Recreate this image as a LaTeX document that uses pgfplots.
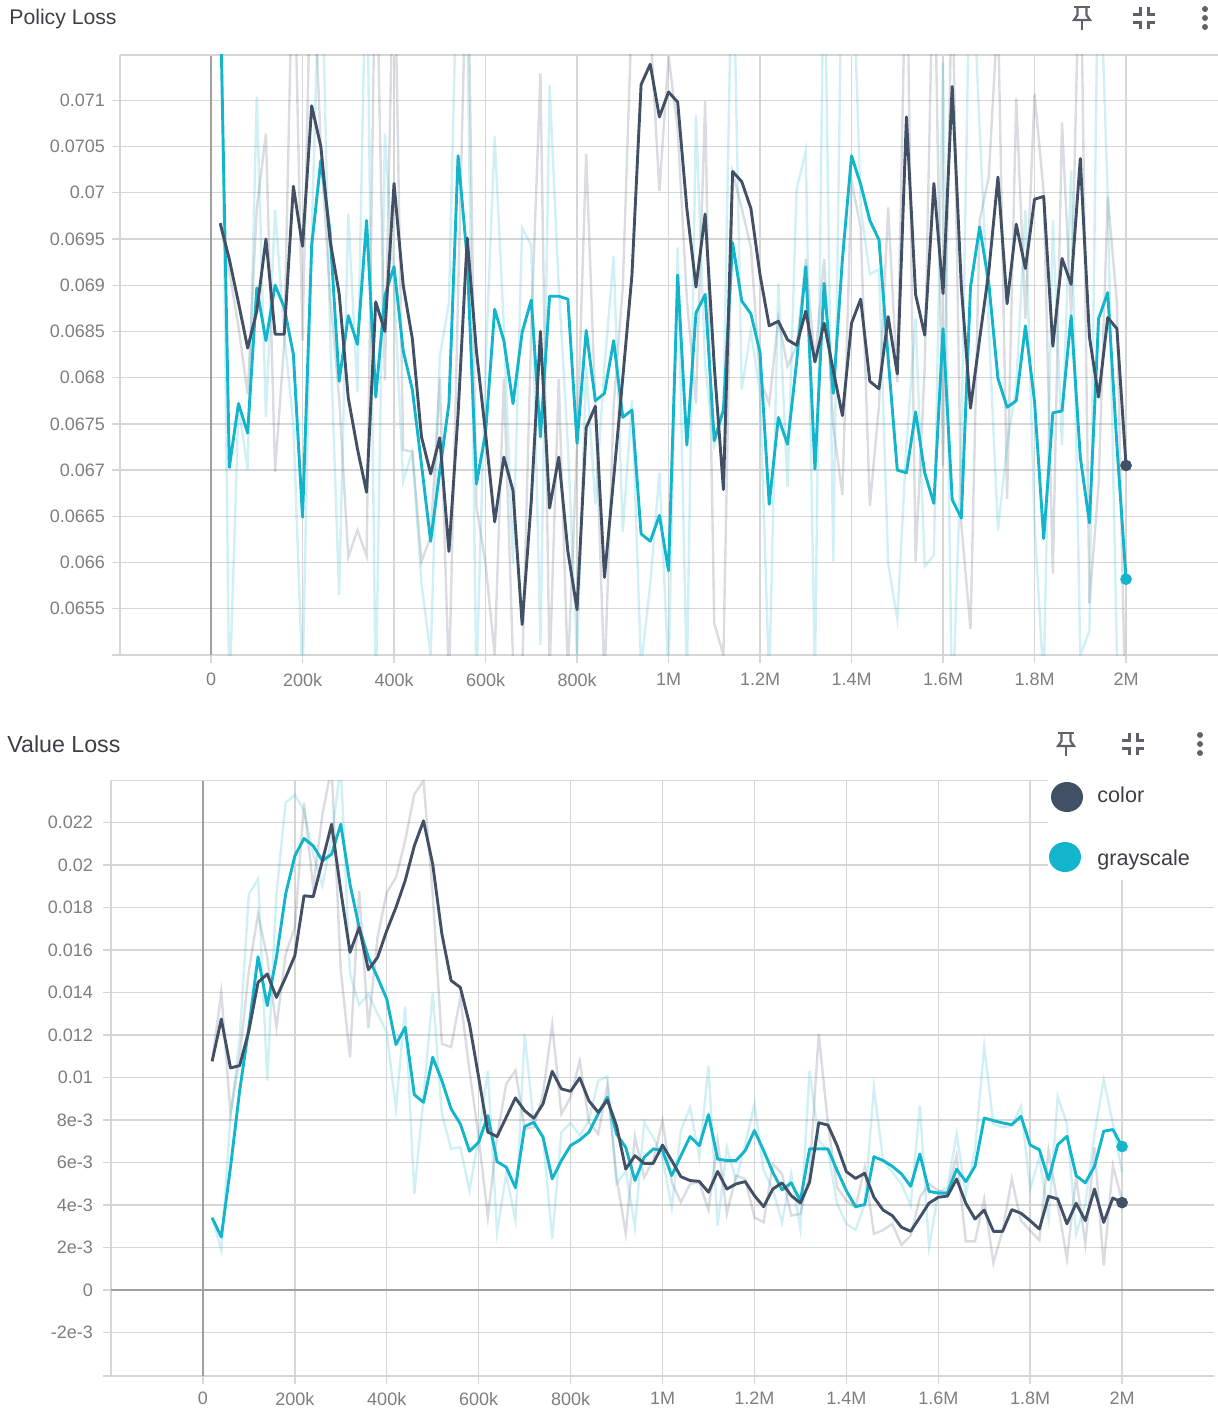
\documentclass[border=0pt]{standalone}
\usepackage{fontspec}
\setmainfont{Liberation Sans}
\usepackage{pgfplots}
\usepackage{pgfplotstable}
\pgfplotsset{compat=1.18}

\definecolor{darkline}{HTML}{425066}
\definecolor{tealline}{HTML}{12B5CB}
\definecolor{gridc}{HTML}{D6D6D6}
\definecolor{zeroc}{HTML}{A0A0A0}
\definecolor{labelc}{HTML}{7E7E7E}
\definecolor{iconc}{HTML}{5F6368}
\definecolor{titlec}{HTML}{3C4043}

% columns: step (k), smoothed color, smoothed grayscale, raw color, raw grayscale
\pgfplotstableread{
k c g cr gr
20 0.06967 0.0722 0.06967 0.0730
40 0.06928 0.06703 0.06915 0.0645
60 0.06881 0.06772 0.06855 0.06770
80 0.06832 0.06740 0.06782 0.06701
100 0.06872 0.06897 0.06983 0.07104
120 0.06950 0.06840 0.07064 0.06757
140 0.06847 0.06900 0.06698 0.06982
160 0.06847 0.06876 0.06838 0.06847
180 0.07007 0.06825 0.0730 0.06748
200 0.06942 0.06649 0.06840 0.06470
220 0.07094 0.06943 0.0730 0.06953
240 0.07050 0.07035 0.07047 0.0730
260 0.06949 0.06958 0.06889 0.06855
280 0.06891 0.06796 0.06778 0.06565
300 0.06778 0.06867 0.06606 0.06977
320 0.06723 0.06836 0.06635 0.06784
340 0.06676 0.06970 0.06607 0.0730
360 0.06882 0.06779 0.0730 0.0645
380 0.06850 0.06889 0.06797 0.07064
400 0.07010 0.06920 0.0730 0.06898
420 0.06900 0.06829 0.06722 0.06688
440 0.06842 0.06787 0.06720 0.06720
460 0.06736 0.06706 0.06601 0.06577
480 0.06696 0.06623 0.06628 0.06500
500 0.06735 0.06699 0.06799 0.06823
520 0.06612 0.06772 0.06470 0.06881
540 0.06761 0.07040 0.06889 0.0730
560 0.06951 0.06928 0.0730 0.0720
580 0.06829 0.06685 0.06661 0.06470
600 0.06740 0.06740 0.06599 0.06812
620 0.06644 0.06874 0.06500 0.07061
640 0.06714 0.06840 0.06799 0.06855
660 0.06678 0.06772 0.06496 0.06599
680 0.06533 0.06849 0.06480 0.06962
700 0.06667 0.06884 0.06855 0.06943
720 0.06850 0.06736 0.07129 0.06511
740 0.06659 0.06888 0.06480 0.07116
760 0.06714 0.06888 0.06799 0.06898
780 0.06612 0.06885 0.06480 0.06727
800 0.06549 0.06729 0.06727 0.06496
820 0.06746 0.06851 0.07042 0.06812
840 0.06769 0.06775 0.06770 0.06663
860 0.06584 0.06783 0.06470 0.06812
880 0.06691 0.06840 0.06770 0.06931
900 0.06800 0.06757 0.06898 0.06633
920 0.06911 0.06765 0.0720 0.06776
940 0.07117 0.06631 0.0725 0.06487
960 0.07139 0.06623 0.0718 0.06577
980 0.07082 0.06651 0.07002 0.06697
1000 0.07109 0.06591 0.07148 0.06479
1020 0.07098 0.06911 0.07069 0.06941
1040 0.06983 0.06727 0.06885 0.06470
1060 0.06898 0.06870 0.06772 0.07084
1080 0.06977 0.06890 0.07099 0.06812
1100 0.06812 0.06732 0.06534 0.06727
1120 0.06679 0.06765 0.06500 0.06770
1140 0.07023 0.06946 0.07022 0.0730
1160 0.07012 0.06883 0.06983 0.06787
1180 0.06983 0.06869 0.06941 0.06851
1200 0.06911 0.06827 0.06799 0.06782
1220 0.06856 0.06663 0.06772 0.06470
1240 0.06861 0.06757 0.06864 0.06902
1260 0.06841 0.06728 0.06812 0.06682
1280 0.06835 0.06817 0.06834 0.07004
1300 0.06872 0.06920 0.06928 0.07045
1320 0.06817 0.06701 0.06817 0.06470
1340 0.06859 0.06902 0.06928 0.0730
1360 0.06808 0.06783 0.06748 0.06601
1380 0.06759 0.06928 0.06673 0.0730
1400 0.06859 0.07040 0.07013 0.0730
1420 0.06885 0.07009 0.06962 0.06983
1440 0.06796 0.06970 0.06661 0.06912
1460 0.06788 0.06949 0.06770 0.06917
1480 0.06866 0.06821 0.06984 0.06599
1500 0.06804 0.06700 0.06795 0.06539
1520 0.07082 0.06697 0.0730 0.06727
1540 0.06890 0.06763 0.06601 0.06864
1560 0.06846 0.06697 0.06812 0.06596
1580 0.07010 0.06664 0.0730 0.06608
1600 0.06891 0.06853 0.06705 0.07141
1620 0.07115 0.06668 0.0725 0.06430
1640 0.06898 0.06648 0.06641 0.06727
1660 0.06767 0.06898 0.06528 0.0730
1680 0.06842 0.06963 0.06970 0.07069
1700 0.06915 0.06902 0.07017 0.06855
1720 0.07017 0.06799 0.0720 0.06635
1740 0.06880 0.06768 0.06669 0.06727
1760 0.06966 0.06775 0.07102 0.06791
1780 0.06918 0.06856 0.06864 0.06981
1800 0.06993 0.06774 0.07107 0.06641
1820 0.06996 0.06626 0.07000 0.06470
1840 0.06834 0.06762 0.06588 0.06970
1860 0.06929 0.06764 0.07076 0.06727
1880 0.06901 0.06867 0.06868 0.07024
1900 0.07037 0.06714 0.0730 0.06500
1920 0.06844 0.06643 0.06556 0.06526
1940 0.06779 0.06864 0.06684 0.0730
1960 0.06865 0.06892 0.06996 0.06996
1980 0.06853 0.06727 0.06881 0.06500
2000 0.06705 0.06582 0.0640 0.0640
}\policytable

\pgfplotstableread{
k c g cr gr
20 0.01076 0.00340 0.01076 0.00340
40 0.01275 0.00249 0.01401 0.00186
60 0.01045 0.00578 0.00829 0.00813
80 0.01056 0.00938 0.01095 0.01189
100 0.01220 0.01236 0.01503 0.01863
120 0.01448 0.01568 0.01769 0.01934
140 0.01487 0.01338 0.01565 0.00985
160 0.01377 0.01565 0.01236 0.01863
180 0.01471 0.01863 0.01581 0.02294
200 0.01573 0.02043 0.01706 0.02330
220 0.01855 0.02125 0.02291 0.02255
240 0.01851 0.02090 0.01894 0.02051
260 0.02020 0.02020 0.02239 0.01902
280 0.02192 0.02051 0.02460 0.02130
300 0.01879 0.02192 0.01503 0.02470
320 0.01589 0.01910 0.01095 0.01487
340 0.01706 0.01706 0.01879 0.01341
360 0.01507 0.01565 0.01233 0.01393
380 0.01565 0.01471 0.01659 0.01299
400 0.01691 0.01369 0.01871 0.01213
420 0.01800 0.01155 0.01941 0.00852
440 0.01926 0.01236 0.02114 0.01333
460 0.02090 0.00919 0.02333 0.00453
480 0.02208 0.00883 0.02396 0.00907
500 0.02004 0.01095 0.01863 0.01396
520 0.01675 0.00985 0.01158 0.00829
540 0.01456 0.00852 0.01143 0.00664
560 0.01424 0.00782 0.01377 0.00672
580 0.01252 0.00653 0.01033 0.00468
600 0.01001 0.00695 0.00719 0.00719
620 0.00743 0.00821 0.00343 0.01032
640 0.00722 0.00604 0.00719 0.00272
660 0.00813 0.00578 0.00970 0.00546
680 0.00904 0.00481 0.01033 0.00327
700 0.00844 0.00769 0.00758 0.01205
720 0.00808 0.00789 0.00766 0.00782
740 0.00876 0.00719 0.00923 0.00719
760 0.01029 0.00523 0.01249 0.00241
780 0.00946 0.00609 0.00829 0.00743
800 0.00935 0.00680 0.00907 0.00786
820 0.00998 0.00706 0.01079 0.00727
840 0.00890 0.00743 0.00789 0.00797
860 0.00836 0.00828 0.00734 0.00985
880 0.00894 0.00907 0.00962 0.01004
900 0.00773 0.00734 0.00530 0.00499
920 0.00569 0.00671 0.00267 0.00562
940 0.00632 0.00515 0.00722 0.00295
960 0.00596 0.00624 0.00530 0.00789
980 0.00596 0.00664 0.00609 0.00718
1000 0.00682 0.00656 0.00797 0.00624
1020 0.00609 0.00538 0.00507 0.00389
1040 0.00533 0.00632 0.00413 0.00750
1060 0.00515 0.00722 0.00499 0.00860
1080 0.00511 0.00679 0.00507 0.00624
1100 0.00460 0.00825 0.00376 0.01053
1120 0.00558 0.00616 0.00703 0.00303
1140 0.00475 0.00609 0.00358 0.00671
1160 0.00499 0.00609 0.00538 0.00515
1180 0.00510 0.00656 0.00522 0.00687
1200 0.00444 0.00750 0.00342 0.00875
1220 0.00392 0.00656 0.00318 0.00562
1240 0.00475 0.00554 0.00593 0.00475
1260 0.00504 0.00471 0.00546 0.00318
1280 0.00444 0.00504 0.00350 0.00546
1300 0.00409 0.00420 0.00358 0.00287
1320 0.00507 0.00664 0.00546 0.01032
1340 0.00787 0.00664 0.01205 0.00703
1360 0.00776 0.00664 0.00781 0.00656
1380 0.00679 0.00562 0.00483 0.00405
1400 0.00557 0.00467 0.00420 0.00311
1420 0.00525 0.00392 0.00389 0.00282
1440 0.00549 0.00402 0.00577 0.00405
1460 0.00436 0.00627 0.00264 0.00954
1480 0.00376 0.00609 0.00282 0.00609
1500 0.00350 0.00582 0.00311 0.00554
1520 0.00295 0.00546 0.00212 0.00499
1540 0.00276 0.00488 0.00256 0.00397
1560 0.00342 0.00640 0.00436 0.00867
1580 0.00409 0.00464 0.00499 0.00201
1600 0.00436 0.00456 0.00467 0.00460
1620 0.00442 0.00456 0.00460 0.00483
1640 0.00522 0.00569 0.00632 0.00734
1660 0.00408 0.00510 0.00229 0.00452
1680 0.00334 0.00582 0.00229 0.00656
1700 0.00376 0.00809 0.00428 0.01145
1720 0.00276 0.00797 0.00127 0.00781
1740 0.00276 0.00786 0.00279 0.00765
1760 0.00378 0.00778 0.00522 0.00773
1780 0.00361 0.00817 0.00326 0.00864
1800 0.00326 0.00682 0.00279 0.00475
1820 0.00287 0.00660 0.00235 0.00624
1840 0.00441 0.00519 0.00656 0.00334
1860 0.00428 0.00684 0.00405 0.00910
1880 0.00311 0.00723 0.00146 0.00781
1900 0.00408 0.00538 0.00530 0.00264
1920 0.00326 0.00504 0.00216 0.00405
1940 0.00475 0.00582 0.00671 0.00734
1960 0.00318 0.00747 0.00115 0.00990
1980 0.00433 0.00755 0.00585 0.00781
2000 0.00411 0.00675 0.00420 0.00554
}\valuetable

\pgfplotsset{
  tbaxis/.style={
    scale only axis,
    axis x line*=bottom, axis y line*=left,
    axis line style={draw=gridc, line width=0.8pt, -},
    grid=major,
    major grid style={draw=gridc, line width=0.7pt},
    tick style={draw=gridc, line width=0.7pt},
    tick align=outside,
    major tick length=4pt,
    scaled ticks=false,
    tick label style={font=\fontsize{9}{10}\selectfont, text=labelc},
    /pgf/number format/assume math mode=true,
    xtick={0,200,...,2000},
    xticklabels={0,200k,400k,600k,800k,1M,1.2M,1.4M,1.6M,1.8M,2M},
    clip=true,
  },
  rawc/.style={no marks, darkline, opacity=0.2, line width=1.2pt},
  rawg/.style={no marks, tealline, opacity=0.2, line width=1.2pt},
  smc/.style={no marks, darkline, line width=1.45pt, line join=round},
  smg/.style={no marks, tealline, line width=1.45pt, line join=round},
}

\begin{document}
\begin{tikzpicture}[x=0.5pt,y=-0.5pt]
\useasboundingbox (0,0) rectangle (1218,1408);

\begin{axis}[tbaxis,
  at={(60pt,-327.5pt)}, anchor=south west,
  width=549pt, height=300pt,
  xmin=-199, xmax=2201,
  ymin=0.0650, ymax=0.07149,
  xticklabel style={yshift=-1.5pt},
  ytick={0.065,0.0655,0.066,0.0665,0.067,0.0675,0.068,0.0685,0.069,0.0695,0.07,0.0705,0.071},
  yticklabels={,0.0655,0.066,0.0665,0.067,0.0675,0.068,0.0685,0.069,0.0695,0.07,0.0705,0.071},
]
\addplot[no marks, zeroc, line width=1.1pt] coordinates {(0,0.0650) (0,0.07149)};
\addplot[no marks, gridc, line width=0.7pt] coordinates {(-199,0.07149) (2201,0.07149)};
\addplot[rawc] table[x=k,y=cr] {\policytable};
\addplot[rawg] table[x=k,y=gr] {\policytable};
\addplot[smg] table[x=k,y=g] {\policytable};
\addplot[smc] table[x=k,y=c] {\policytable};
\addplot[only marks, mark=*, mark size=2.7pt, darkline] coordinates {(2000,0.06705)};
\addplot[only marks, mark=*, mark size=2.7pt, tealline] coordinates {(2000,0.06582)};
\end{axis}

\begin{axis}[tbaxis,
  at={(55.5pt,-688pt)}, anchor=south west,
  width=551.5pt, height=298pt,
  xmin=-200, xmax=2200,
  ymin=-0.00405, ymax=0.0240,
  xticklabel style={yshift=-0.5pt},
  yticklabel style={xshift=-1.5pt},
  ytick={-0.00405,-0.002,0,0.002,0.004,0.006,0.008,0.01,0.012,0.014,0.016,0.018,0.02,0.022},
  yticklabels={,-2e-3,0,2e-3,4e-3,6e-3,8e-3,0.01,0.012,0.014,0.016,0.018,0.02,0.022},
]
\addplot[no marks, zeroc, line width=1.1pt] coordinates {(0,-0.00405) (0,0.0240)};
\addplot[no marks, zeroc, line width=1.1pt] coordinates {(-200,0) (2200,0)};
\addplot[no marks, gridc, line width=0.7pt] coordinates {(-200,0.0240) (2200,0.0240)};
\addplot[rawc] table[x=k,y=cr] {\valuetable};
\addplot[rawg] table[x=k,y=gr] {\valuetable};
\addplot[smg] table[x=k,y=g] {\valuetable};
\addplot[smc] table[x=k,y=c] {\valuetable};
\addplot[only marks, mark=*, mark size=2.7pt, darkline] coordinates {(2000,0.00411)};
\addplot[only marks, mark=*, mark size=2.7pt, tealline] coordinates {(2000,0.00675)};
\end{axis}

% titles
\node[anchor=west, inner sep=0pt, text=titlec, font=\fontsize{10.6}{13}\selectfont] at (9,19) {Policy Loss};
\node[anchor=west, inner sep=0pt, text=titlec, font=\fontsize{11.6}{13}\selectfont] at (7,744) {Value Loss};

% legend
\fill[white] (1048,778) rectangle (1218,880);
\fill[darkline] (1067,797) ellipse (16 and 15);
\fill[tealline] (1065,857) ellipse (16 and 15);
\node[anchor=west, inner sep=0pt, text=titlec, font=\fontsize{10.8}{12}\selectfont] at (1097,795) {color};
\node[anchor=west, inner sep=0pt, text=titlec, font=\fontsize{10.8}{12}\selectfont] at (1097,860) {grayscale};

% toolbar icons
\foreach \ox/\oy/\cx/\dx in {1082/18/1144/1205, 1066/744/1133/1200}{
  \begin{scope}[iconc, line width=1.1pt]
    \draw (\ox-8,\oy-11) -- (\ox+8,\oy-11);
    \draw (\ox-4.5,\oy-11) -- (\ox-4.5,\oy-3) -- (\ox-8,\oy+2) -- (\ox+8,\oy+2) -- (\ox+4.5,\oy-3) -- (\ox+4.5,\oy-11);
    \draw (\ox,\oy+2) -- (\ox,\oy+12);
    \draw[line width=1.5pt] (\cx-11,\oy-4) -- (\cx-4,\oy-4) -- (\cx-4,\oy-11);
    \draw[line width=1.5pt] (\cx+11,\oy-4) -- (\cx+4,\oy-4) -- (\cx+4,\oy-11);
    \draw[line width=1.5pt] (\cx-11,\oy+4) -- (\cx-4,\oy+4) -- (\cx-4,\oy+11);
    \draw[line width=1.5pt] (\cx+11,\oy+4) -- (\cx+4,\oy+4) -- (\cx+4,\oy+11);
    \fill (\dx,\oy-9) circle (3);
    \fill (\dx,\oy) circle (3);
    \fill (\dx,\oy+9) circle (3);
  \end{scope}
}
\end{tikzpicture}
\end{document}
